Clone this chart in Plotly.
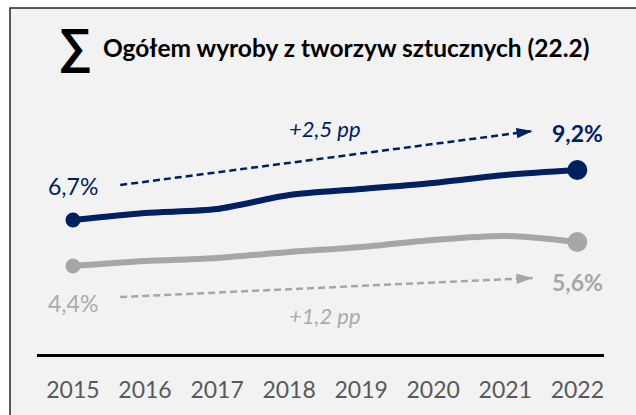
import plotly.graph_objects as go

# ---- data ----
years = [2015, 2016, 2017, 2018, 2019, 2020, 2021, 2022]
total_share = [6.7, 7.05, 7.25, 7.95, 8.25, 8.55, 8.95, 9.2]
plastics_share = [4.4, 4.65, 4.8, 5.1, 5.35, 5.7, 5.9, 5.6]
tick_labels = [str(y) for y in years]
title_text = "Ogółem wyroby z tworzyw sztucznych (22.2)"
navy_change = "+2,5 pp"
gray_change = "+1,2 pp"

NAVY = "#002060"
GRAY = "#A6A6A6"
LGRAY = "#ABABAB"
FONT = "Lato"

W, H = 636, 415
L, R, T, B = 37, 32, 100, 61
PW, PH = W - L - R, H - T - B


def fmt(v):
    return f"{v:.1f}".replace(".", ",") + "%"


def px_x(px):
    return (px - L) / PW


def px_y(py):
    return (H - B - py) / PH


fig = go.Figure()

for vals, col in [(total_share, NAVY), (plastics_share, GRAY)]:
    fig.add_trace(go.Scatter(
        x=years, y=vals, mode="lines",
        line=dict(color=col, width=6, shape="spline", smoothing=0.8),
        hoverinfo="skip", showlegend=False,
    ))
    fig.add_trace(go.Scatter(
        x=[years[0], years[-1]], y=[vals[0], vals[-1]], mode="markers",
        marker=dict(size=[15, 20], color=col, opacity=1, line=dict(width=0)),
        hoverinfo="skip", showlegend=False,
    ))

# dashed trend arrows
x0a = years[0] + 0.656
x1a = years[-1] - 0.62
for (ya, yb, col) in [
    (total_share[0] + 1.75, total_share[-1] + 1.95, NAVY),
    (plastics_share[0] - 1.55, plastics_share[-1] - 1.8, GRAY),
]:
    fig.add_trace(go.Scatter(
        x=[x0a, x1a], y=[ya, yb], mode="lines",
        line=dict(color=col, width=2.5, dash="7px,4px"),
        hoverinfo="skip", showlegend=False,
    ))
    fig.add_trace(go.Scatter(
        x=[x0a, x1a], y=[ya, yb], mode="markers",
        marker=dict(symbol="arrow", angleref="previous", size=[0, 17], color=col,
                    opacity=1, line=dict(width=0)),
        hoverinfo="skip", showlegend=False,
    ))

ann = []
ann.append(dict(x=years[0], y=total_share[0] + 1.7, text=fmt(total_share[0]),
                font=dict(color=NAVY, size=23, family=FONT)))
ann.append(dict(x=years[-1], y=total_share[-1] + 1.85, text="<b>" + fmt(total_share[-1]) + "</b>",
                font=dict(color=NAVY, size=23, family=FONT)))
ann.append(dict(x=years[0], y=plastics_share[0] - 1.85, text=fmt(plastics_share[0]),
                font=dict(color=LGRAY, size=23, family=FONT)))
ann.append(dict(x=years[-1], y=plastics_share[-1] - 2.0, text="<b>" + fmt(plastics_share[-1]) + "</b>",
                font=dict(color=GRAY, size=23, family=FONT)))
ann.append(dict(x=2018.5, y=11.3, text="<i>" + navy_change + "</i>",
                font=dict(color=NAVY, size=22, family=FONT)))
ann.append(dict(x=2018.5, y=1.95, text="<i>" + gray_change + "</i>",
                font=dict(color=LGRAY, size=22, family=FONT)))
for a in ann:
    a.update(xref="x", yref="y", showarrow=False, xanchor="center", yanchor="middle")

# title
ann.append(dict(xref="paper", yref="paper", x=px_x(74.5), y=px_y(46), text="<b>∑</b>",
                showarrow=False, xanchor="center", yanchor="middle",
                font=dict(color="#000000", size=48, family="Liberation Sans")))
ann.append(dict(xref="paper", yref="paper", x=px_x(101), y=px_y(48), text="<b>" + title_text + "</b>",
                showarrow=False, xanchor="left", yanchor="middle",
                font=dict(color="#000000", size=24.5, family=FONT)))

fig.update_layout(
    width=W, height=H,
    margin=dict(l=L, r=R, t=T, b=B, autoexpand=False),
    paper_bgcolor="#FFFFFF",
    plot_bgcolor="rgba(0,0,0,0)",
    annotations=ann,
    shapes=[dict(type="rect", xref="paper", yref="paper", layer="below",
                 x0=px_x(10), x1=px_x(W + 20), y0=px_y(H + 20), y1=px_y(8),
                 fillcolor="#F2F2F2", line=dict(color="#262626", width=1.5))],
    xaxis=dict(range=[years[0] - 36.0 / 72.1, years[-1] + 26.7 / 72.1],
               tickmode="array", tickvals=years, ticktext=tick_labels,
               showline=True, linecolor="#000000", linewidth=2.5,
               showgrid=False, zeroline=False, ticks="",
               ticklabelstandoff=14,
               tickfont=dict(color="#595959", size=23, family=FONT),
               fixedrange=True),
    yaxis=dict(range=[0, PH / 20.0], visible=False, showgrid=False, zeroline=False,
               fixedrange=True),
)

fig.write_html("out.html", config={"displayModeBar": False},
               post_script="document.body.style.margin='0';document.body.style.overflow='hidden';")
